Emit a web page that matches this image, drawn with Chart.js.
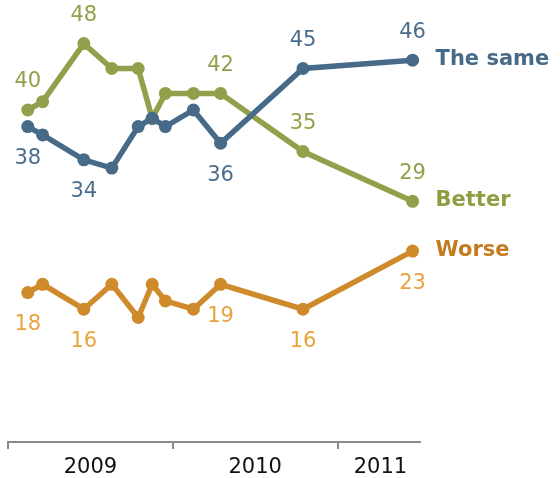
<!DOCTYPE html>
<html lang="en">
<head>
<meta charset="UTF-8">
<script src="https://cdn.jsdelivr.net/npm/chart.js"></script>
<style>
    html, body { margin: 0; padding: 0; background: #fff; }
    .wrap { position: relative; width: 560px; height: 478px; }
</style>
</head>
<body>
<div class="wrap"><canvas id="chart" width="560" height="478"></canvas></div>
<script>
// survey dates as decimal years (Feb 2009 ... Jun 2011)
const surveyDates = [2009.12, 2009.21, 2009.46, 2009.63, 2009.79, 2009.875, 2009.955, 2010.125, 2010.29, 2010.79, 2011.455];
const theSame = [38, 37, 34, 33, 38, 39, 38, 40, 36, 45, 46];
const better  = [40, 41, 48, 45, 45, 39, 42, 42, 42, 35, 29];
const worse   = [18, 19, 16, 19, 15, 19, 17, 16, 19, 16, 23];
const seriesNames = ['The same', 'Better', 'Worse'];

// which points carry a value label
const sameLabelAt   = [0, 2, 8, 9, 10];
const betterLabelAt = [0, 2, 8, 9, 10];
const worseLabelAt  = [0, 2, 8, 9, 10];

// x axis: boundary marks and year labels
const yearBounds = [2009, 2010, 2011];
const yearLabelPos = [2009.5, 2010.5, 2011.26];
const yearLabels = ['2009', '2010', '2011'];

const BLUE = '#466a88', GREEN = '#949f4b', ORANGE = '#cf8b2b';
const FONT = '"DejaVu Sans", Verdana, sans-serif';

const pts = vals => vals.map((v, i) => ({ x: surveyDates[i], y: v }));

// value labels + series names
const labelPlugin = {
    id: 'labels',
    afterDatasetsDraw(chart) {
        const ctx = chart.ctx;
        const cfg = [
            { at: sameLabelAt, color: '#4b6d8b', nameColor: BLUE, below: [0, 2, 8] },
            { at: betterLabelAt, color: '#949f4b', nameColor: '#8f9c42', below: [] },
            { at: worseLabelAt, color: '#e9a23c', nameColor: '#c47a1e', below: [0, 2, 8, 9, 10] }
        ];
        ctx.save();
        ctx.textBaseline = 'middle';
        cfg.forEach((c, di) => {
            const meta = chart.getDatasetMeta(di);
            const vals = chart.data.datasets[di].data;
            ctx.font = '21px ' + FONT;
            ctx.fillStyle = c.color;
            ctx.textAlign = 'center';
            c.at.forEach(i => {
                const p = meta.data[i];
                const dy = c.below.includes(i) ? 32 : -28;
                ctx.fillText(String(vals[i].y), p.x, p.y + dy);
            });
            const last = meta.data[meta.data.length - 1];
            ctx.font = 'bold 21px ' + FONT;
            ctx.fillStyle = c.nameColor;
            ctx.textAlign = 'left';
            ctx.fillText(seriesNames[di], last.x + 23, last.y - 1);
        });
        ctx.restore();
    }
};

const mk = (label, vals, color) => ({
    label,
    data: pts(vals),
    borderColor: color,
    backgroundColor: color,
    borderWidth: 5.5,
    pointRadius: 6.5,
    pointHoverRadius: 6.5,
    pointBorderWidth: 0,
    tension: 0
});

new Chart(document.getElementById('chart'), {
    type: 'line',
    data: {
        datasets: [
            mk(seriesNames[0], theSame, BLUE),
            mk(seriesNames[1], better, GREEN),
            mk(seriesNames[2], worse, ORANGE)
        ]
    },
    options: {
        responsive: false,
        animation: false,
        layout: { padding: { top: 27, left: 8, right: 140, bottom: 0 } },
        plugins: { legend: { display: false }, tooltip: { enabled: false } },
        scales: {
            x: {
                type: 'linear',
                min: 2009,
                max: 2011.5,
                afterBuildTicks: s => {
                    s.ticks = yearBounds.concat(yearLabelPos).sort((a, b) => a - b).map(v => ({ value: v }));
                },
                afterFit: s => { s.height = 36; },
                grid: {
                    drawOnChartArea: false,
                    drawTicks: true,
                    tickLength: 7,
                    lineWidth: 2,
                    color: ctx => (ctx.tick && yearBounds.includes(ctx.tick.value)) ? '#8a8a8a' : 'rgba(0,0,0,0)'
                },
                border: { display: true, color: '#8a8a8a', width: 2 },
                ticks: {
                    autoSkip: false,
                    maxRotation: 0,
                    padding: 6,
                    color: '#111',
                    font: { family: FONT, size: 21 },
                    callback: v => {
                        const k = yearLabelPos.indexOf(v);
                        return k >= 0 ? yearLabels[k] : '';
                    }
                }
            },
            y: {
                display: false,
                min: 0,
                max: 50
            }
        }
    },
    plugins: [labelPlugin]
});
</script>
</body>
</html>
